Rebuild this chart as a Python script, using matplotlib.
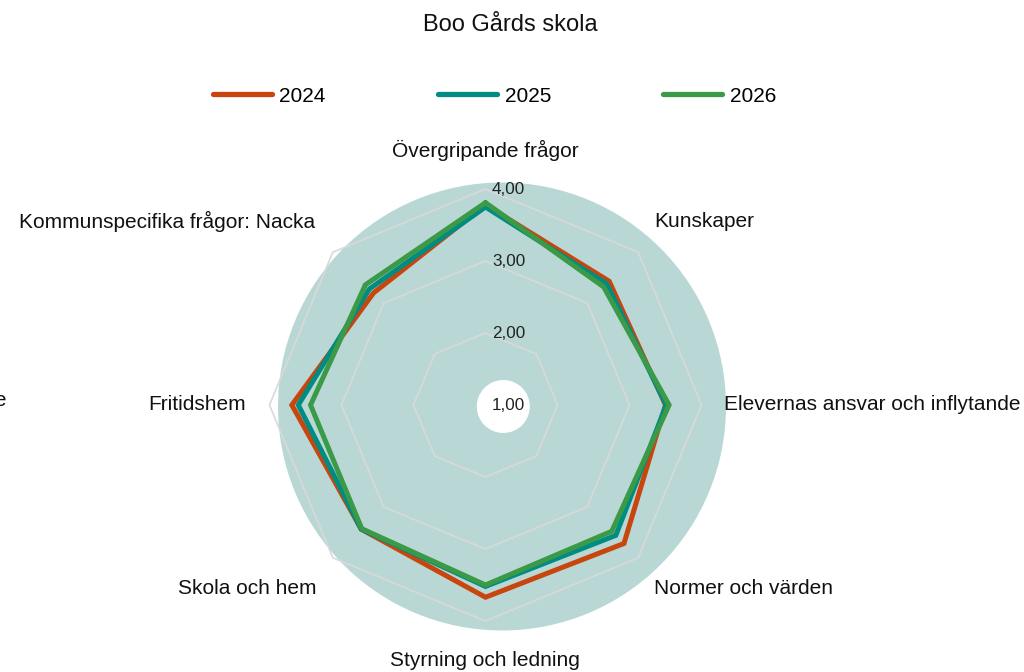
import numpy as np
import matplotlib
matplotlib.use("Agg")
import matplotlib.pyplot as plt
from matplotlib.patches import Ellipse
from matplotlib.lines import Line2D
import matplotlib.transforms as mtransforms

plt.rcParams['font.family'] = ['Liberation Sans', 'DejaVu Sans']

title = "Boo Gårds skola"
categories = [
    "Övergripande frågor",
    "Kunskaper",
    "Elevernas ansvar och inflytande",
    "Normer och värden",
    "Styrning och ledning",
    "Skola och hem",
    "Fritidshem",
    "Kommunspecifika frågor: Nacka",
]
years = ["2024", "2025", "2026"]
values_2024 = [3.78, 3.43, 3.50, 3.72, 3.67, 3.44, 3.69, 3.20]
values_2025 = [3.75, 3.38, 3.51, 3.56, 3.52, 3.44, 3.60, 3.28]
values_2026 = [3.81, 3.32, 3.55, 3.48, 3.50, 3.43, 3.43, 3.36]
series = [values_2024, values_2025, values_2026]
colors = ["#C8460E", "#008C82", "#3A9A48"]
tick_values = [1, 2, 3, 4]
tick_labels = ["1,00", "2,00", "3,00", "4,00"]

W, H = 1024, 672
fig = plt.figure(figsize=(W / 100, H / 100), dpi=100)

def fx(x):
    return x / W

def fy(y):
    return 1 - y / H

# background donut (slightly offset, like the reference)
outer = Ellipse((fx(502), fy(406.5)), 448 / W, 448 / H, facecolor="#B9D8D5",
                edgecolor="none", transform=fig.transFigure, zorder=-2)
inner = Ellipse((fx(503.3), fy(406.5)), 53 / W, 53 / H, facecolor="white",
                edgecolor="none", transform=fig.transFigure, zorder=-1)
fig.add_artist(outer)
fig.add_artist(inner)

cx, cy, R = 485.5, 405, 216
ax = fig.add_axes([fx(cx - R), fy(cy + R), 2 * R / W, 2 * R / H], projection="polar")
ax.set_theta_zero_location("N")
ax.set_theta_direction(-1)
ax.set_ylim(1, 4)
ax.set_facecolor("none")
ax.spines["polar"].set_visible(False)
ax.grid(False)
ax.set_xticks([])
ax.set_yticks([])

n = len(categories)
angles = np.linspace(0, 2 * np.pi, n, endpoint=False)
ang_closed = np.concatenate([angles, angles[:1]])

# octagonal grid
for v in tick_values[1:]:
    ax.plot(ang_closed, [v] * (n + 1), color="#D9D9D9", lw=1.2, clip_on=False, zorder=1)

for vals, col in zip(series, colors):
    ax.plot(ang_closed, list(vals) + [vals[0]], color=col, lw=3.6,
            solid_joinstyle="miter", solid_capstyle="round", clip_on=False, zorder=3)

# r tick labels
off = mtransforms.offset_copy(ax.transData, fig=fig, x=6.5, y=0, units="dots")
for v, lab in zip(tick_values, tick_labels):
    ax.text(0, v, lab, transform=off, ha="left", va="center", fontsize=12.3,
            color="#222222", zorder=5)

# category labels (pixel positions)
label_pos = [
    (485.5, 150, "center"),
    (654, 221.5, "left"),
    (723.5, 405, "left"),
    (653.5, 589, "left"),
    (484.5, 661, "center"),
    (316, 589, "right"),
    (245.5, 405, "right"),
    (315.5, 221.5, "right"),
]
for (x, y, ha), lab in zip(label_pos, categories):
    fig.text(fx(x), fy(y), lab, ha=ha, va="center", fontsize=15, color="#111111")

# clipped stray label at left edge
fig.text(fx(6.5), fy(400), categories[2], ha="right", va="center", fontsize=15,
         color="#111111")

fig.text(fx(510), fy(25), title, ha="center", va="center", fontsize=17, color="#111111")

handles = [Line2D([0], [0], color=c, lw=3.8, solid_capstyle="round") for c in colors]
fig.legend(handles, years, loc="center", bbox_to_anchor=(fx(494.5), fy(96)), ncol=3,
           frameon=False, fontsize=15, handlelength=2.83, handletextpad=0.38,
           columnspacing=5.38)

fig.savefig("out.png", dpi=100)
